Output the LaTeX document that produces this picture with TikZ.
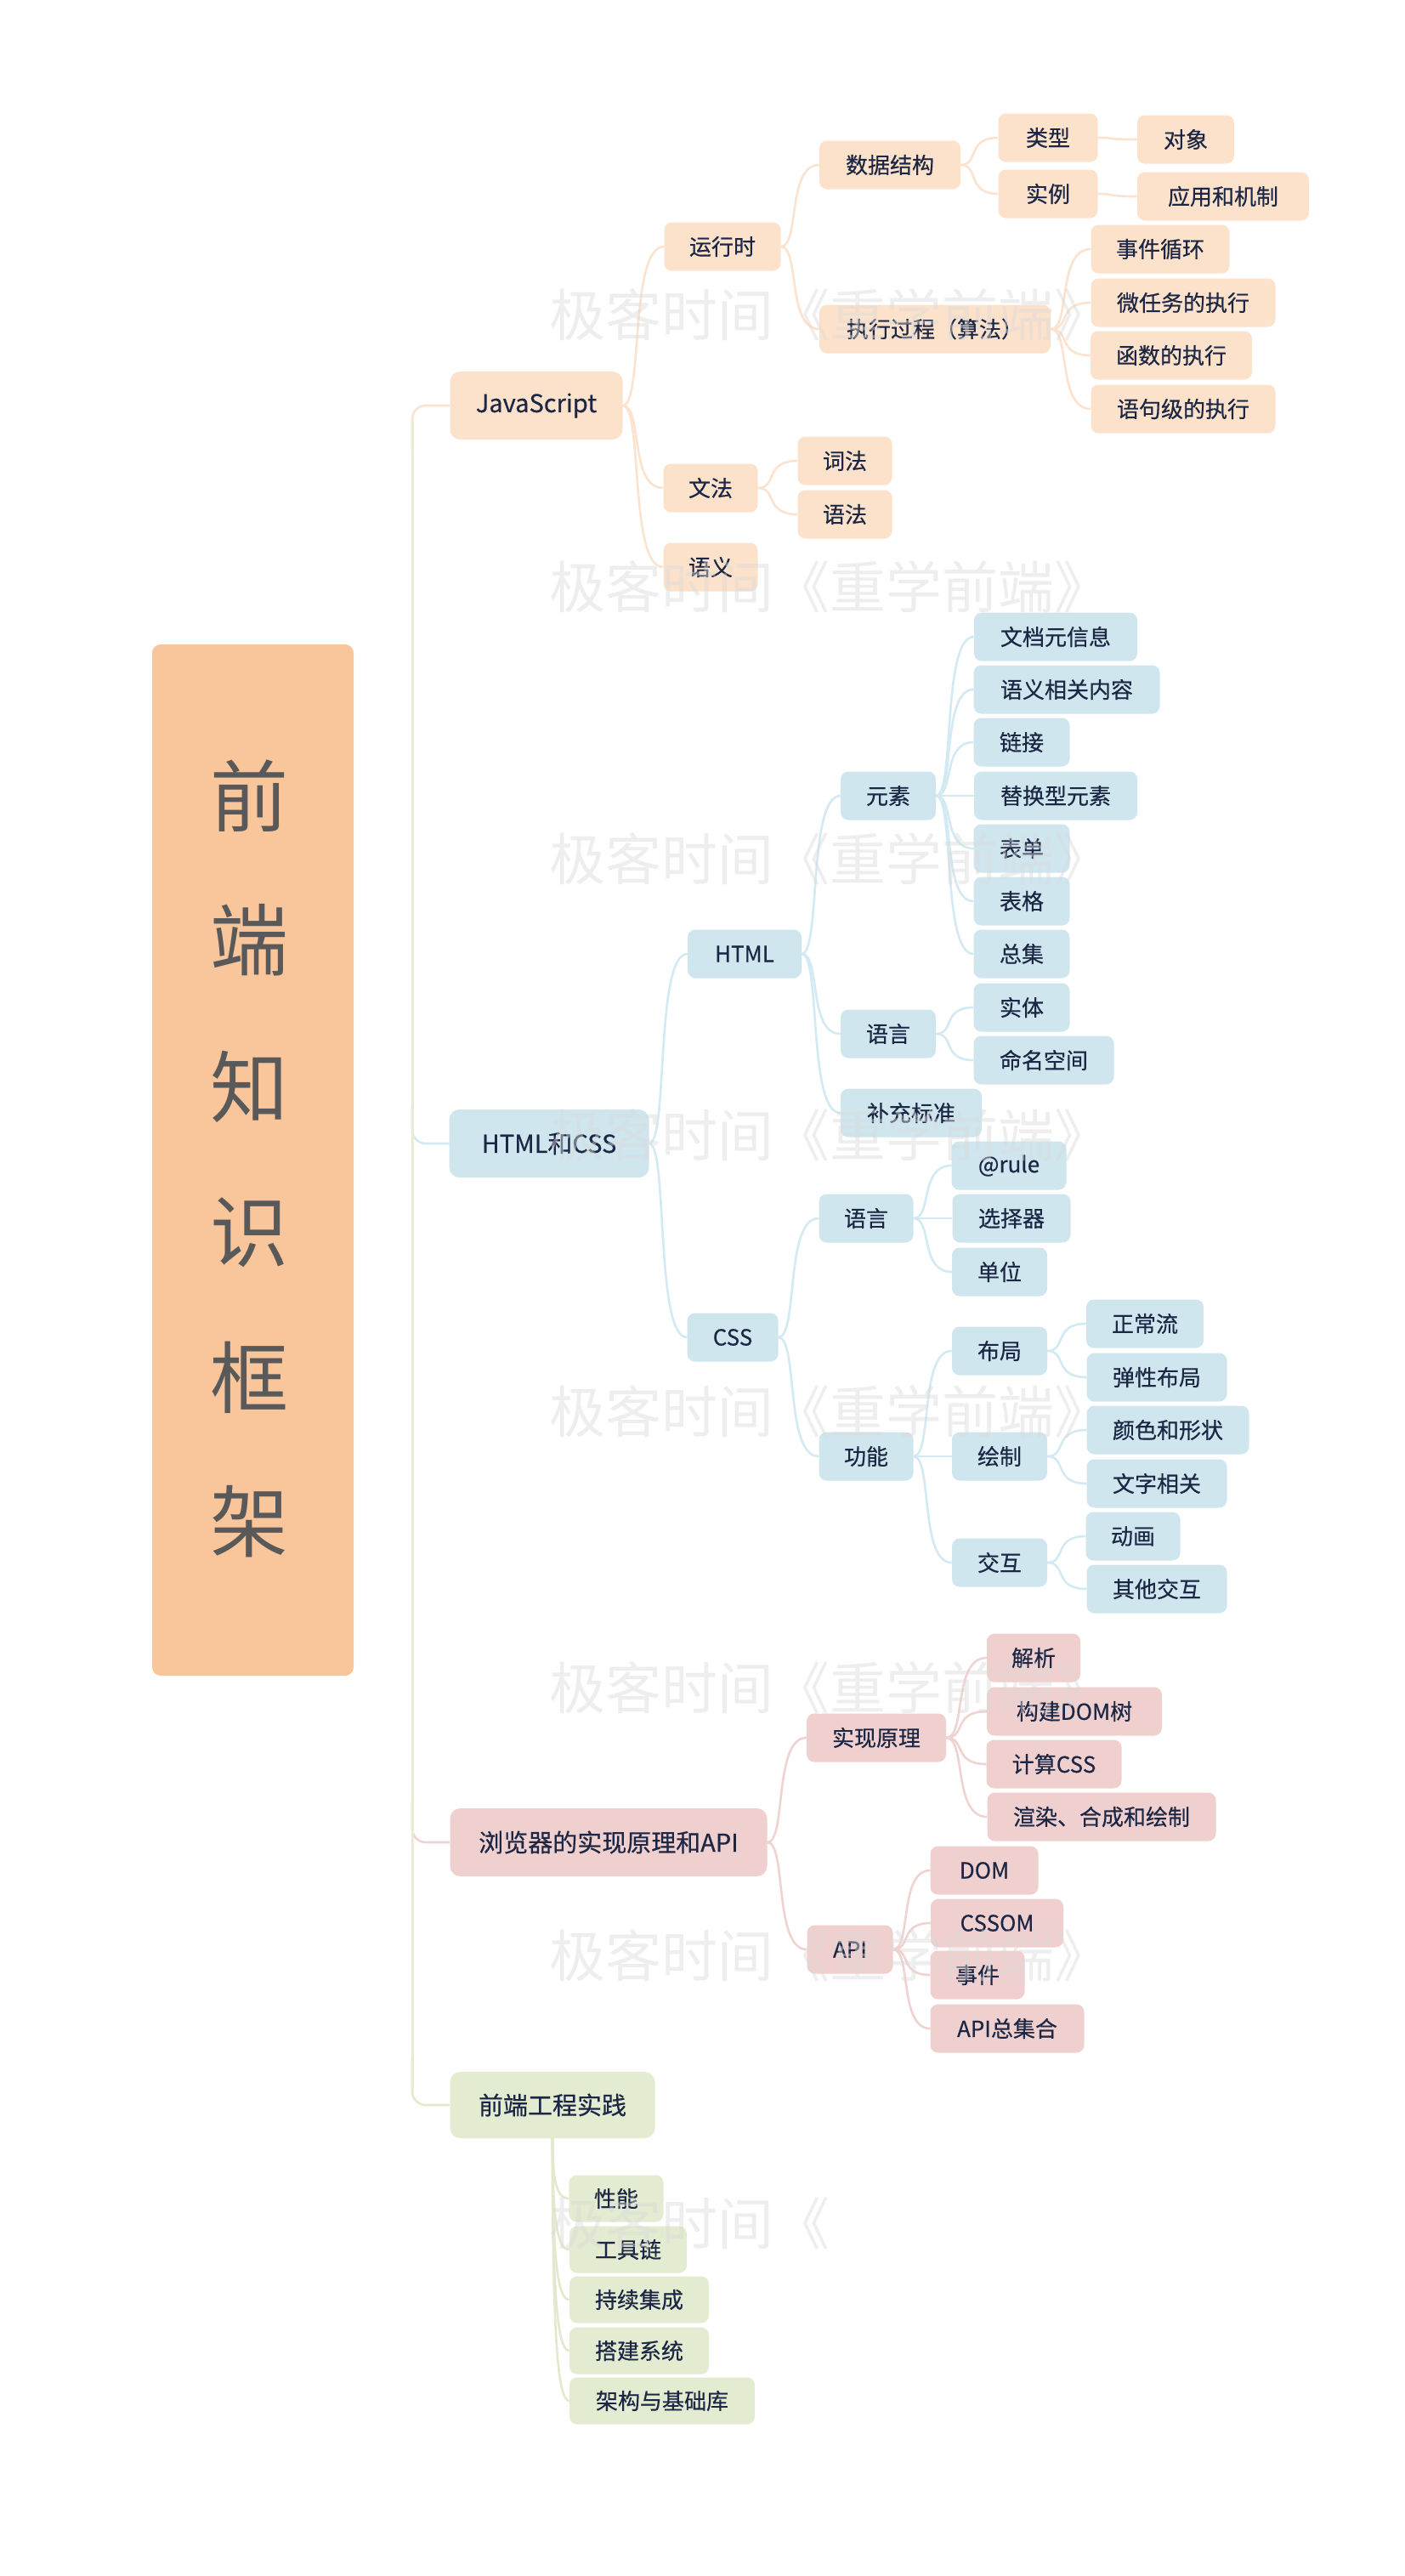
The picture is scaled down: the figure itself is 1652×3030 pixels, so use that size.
\documentclass[tikz,border=0pt]{standalone}
\usepackage{fontspec}
\setmainfont{Noto Sans CJK SC}
\newfontfamily\boxfont[FakeBold=0.5]{Noto Sans CJK SC}
\usetikzlibrary{calc,backgrounds}
\definecolor{titlef}{HTML}{F9C59A}
\definecolor{titlet}{HTML}{595959}
\definecolor{txt}{HTML}{1B2745}
\definecolor{jsf}{HTML}{FDE2CB}
\definecolor{jsl}{HTML}{FBE3CF}
\definecolor{hcf}{HTML}{CFE6EF}
\definecolor{hcl}{HTML}{D3EAF3}
\definecolor{brf}{HTML}{F0D0CF}
\definecolor{brl}{HTML}{EFD3D0}
\definecolor{fef}{HTML}{E3EBD0}
\definecolor{fel}{HTML}{E2E9CE}
\definecolor{trunk}{HTML}{ECE9D7}
\definecolor{wmc}{HTML}{DADADA}
\newcommand\mnode[5]{\node[#1, minimum width=#4] (#2) at #3 {#5};}
\newcommand\mlink[3]{\draw[#3] let \p1=(#1.east), \p2=(#2.west) in (\p1) .. controls ({\x1+0.5*(\x2-\x1)},\y1) and ({\x1+0.15*(\x2-\x1)},\y2) .. (\p2);}
\newcommand\mdown[3]{\draw[#3] let \p1=(#1.south), \p2=(#2.west) in (\p1) .. controls (\x1,{\y1+0.75*(\y2-\y1)}) and ({\x1+0.3*(\x2-\x1)},\y2) .. (\p2);}
\begin{document}
\begin{tikzpicture}[x=1pt,y=-1pt,
  box/.style={rounded corners=9pt, minimum height=57pt, inner sep=0pt, text=txt,
    font=\boxfont\fontsize{26}{30}\selectfont, anchor=center},
  topbox/.style={box, rounded corners=12pt, minimum height=80pt, font=\boxfont\fontsize{29}{34}\selectfont},
  jsn/.style={box, fill=jsf}, jst/.style={topbox, fill=jsf},
  hcn/.style={box, fill=hcf}, hct/.style={topbox, fill=hcf},
  brn/.style={box, fill=brf}, brt/.style={topbox, fill=brf},
  fen/.style={box, fill=fef, minimum height=55pt}, fet/.style={topbox, fill=fef, minimum height=78pt},
  jsc/.style={draw=jsl, line width=2.6pt},
  hcc/.style={draw=hcl, line width=2.6pt},
  brc/.style={draw=brl, line width=2.6pt},
  fec/.style={draw=fel, line width=2.6pt},
  ttl/.style={text=titlet, font=\fontsize{92}{92}\selectfont, inner sep=0pt, anchor=center},
  wm/.style={text=wmc, opacity=0.45, font=\fontsize{66}{66}\selectfont, inner sep=0pt, anchor=west}
]
\useasboundingbox (0,0) rectangle (1652,3030);

% title
\node[fill=titlef, rounded corners=10pt, minimum width=237pt, minimum height=1213pt, inner sep=0pt] (root) at (297.5,1364.5) {};
\node[ttl] (t1) at (293,936) {前};
\node[ttl] (t2) at (293,1106) {端};
\node[ttl] (t3) at (293,1278) {知};
\node[ttl] (t4) at (293,1450) {识};
\node[ttl] (t5) at (293,1620) {框};
\node[ttl] (t6) at (293,1790) {架};

% level 1
\mnode{jst}{js}{(631,477)}{203}{JavaScript}
\mnode{hct}{hc}{(646,1345)}{235}{HTML和CSS}
\mnode{brt}{br}{(716,2167)}{373}{浏览器的实现原理和API}
\mnode{fet}{fe}{(650,2476)}{241}{前端工程实践}

% JavaScript branch
\mnode{jsn}{rt}{(850,290)}{137}{运行时}
\mnode{jsn}{ds}{(1047,194)}{166}{数据结构}
\mnode{jsn}{lx}{(1233,162)}{117}{类型}
\mnode{jsn}{dx}{(1395,164)}{114}{对象}
\mnode{jsn}{sl}{(1233,228)}{117}{实例}
\mnode{jsn}{yy}{(1439,231)}{202}{应用和机制}
\mnode{jsn}{zx}{(1100,387)}{272}{执行过程（算法）}
\mnode{jsn}{sj}{(1365,293)}{163}{事件循环}
\mnode{jsn}{wr}{(1392,356)}{217}{微任务的执行}
\mnode{jsn}{hs}{(1378,418)}{190}{函数的执行}
\mnode{jsn}{yj}{(1392,481)}{217}{语句级的执行}
\mnode{jsn}{wf}{(836,574)}{111}{文法}
\mnode{jsn}{cf}{(994,542)}{111}{词法}
\mnode{jsn}{yf}{(994,605)}{111}{语法}
\mnode{jsn}{yi}{(836,667)}{111}{语义}

% HTML and CSS branch
\mnode{hcn}{html}{(876,1122)}{134}{HTML}
\mnode{hcn}{ys}{(1045,936)}{112}{元素}
\mnode{hcn}{wd}{(1242,749)}{192}{文档元信息}
\mnode{hcn}{yx}{(1255,811)}{219}{语义相关内容}
\mnode{hcn}{lj}{(1202,873)}{113}{链接}
\mnode{hcn}{th}{(1242,936)}{192}{替换型元素}
\mnode{hcn}{bd}{(1202,998)}{113}{表单}
\mnode{hcn}{bg}{(1202,1060)}{113}{表格}
\mnode{hcn}{zj}{(1202,1122)}{113}{总集}
\mnode{hcn}{hy}{(1045,1216)}{112}{语言}
\mnode{hcn}{st}{(1202,1185)}{113}{实体}
\mnode{hcn}{mm}{(1228,1247)}{165}{命名空间}
\mnode{hcn}{bc}{(1072,1309)}{166}{补充标准}
\mnode{hcn}{css}{(862,1573)}{107}{CSS}
\mnode{hcn}{cy}{(1019,1433)}{111}{语言}
\mnode{hcn}{atr}{(1187,1371)}{135}{@rule}
\mnode{hcn}{xz}{(1190,1433)}{139}{选择器}
\mnode{hcn}{dw}{(1176,1496)}{112}{单位}
\mnode{hcn}{gn}{(1019,1713)}{111}{功能}
\mnode{hcn}{bj}{(1176,1589)}{112}{布局}
\mnode{hcn}{zc}{(1347,1557)}{138}{正常流}
\mnode{hcn}{tx}{(1361,1620)}{165}{弹性布局}
\mnode{hcn}{hz}{(1176,1713)}{112}{绘制}
\mnode{hcn}{ysx}{(1374,1682)}{191}{颜色和形状}
\mnode{hcn}{wz}{(1361,1745)}{165}{文字相关}
\mnode{hcn}{jh}{(1176,1838)}{112}{交互}
\mnode{hcn}{dh}{(1333,1807)}{111}{动画}
\mnode{hcn}{qt}{(1361,1869)}{165}{其他交互}

% browser branch
\mnode{brn}{sx}{(1031,2044)}{164}{实现原理}
\mnode{brn}{jx}{(1216,1950)}{110}{解析}
\mnode{brn}{gj}{(1264,2013)}{206}{构建DOM树}
\mnode{brn}{jscss}{(1240,2075)}{159}{计算CSS}
\mnode{brn}{xr}{(1296,2137)}{269}{渲染、合成和绘制}
\mnode{brn}{api}{(1000,2293)}{101}{API}
\mnode{brn}{dom}{(1158,2200)}{127}{DOM}
\mnode{brn}{cssom}{(1173,2262)}{156}{CSSOM}
\mnode{brn}{sjj}{(1150,2323)}{111}{事件}
\mnode{brn}{apiz}{(1185,2386)}{181}{API总集合}

% practice branch
\mnode{fen}{xn}{(725,2586)}{111}{性能}
\mnode{fen}{gjl}{(739,2646)}{138}{工具链}
\mnode{fen}{cx}{(752,2705)}{164}{持续集成}
\mnode{fen}{dj}{(752,2765)}{164}{搭建系统}
\mnode{fen}{jg}{(779,2824)}{218}{架构与基础库}

\begin{pgfonlayer}{background}
\fill[white] (0,0) rectangle (1652,3030);
% trunk stubs
\draw[jsc, rounded corners=16pt] (485,530) -- (485,477) -- (js.west);
\draw[hcc, rounded corners=16pt] (485,1300) -- (485,1345) -- (hc.west);
\draw[brc, rounded corners=16pt] (485,2120) -- (485,2167) -- (br.west);
\draw[fec, rounded corners=16pt] (485,2420) -- (485,2476) -- (fe.west);
\draw[draw=trunk, line width=3pt] (485,495) -- (485,2458);
% JavaScript links
\mlink{js}{rt}{jsc}
\mlink{js}{wf}{jsc}
\mlink{js}{yi}{jsc}
\mlink{rt}{ds}{jsc}
\mlink{rt}{zx}{jsc}
\mlink{ds}{lx}{jsc}
\mlink{ds}{sl}{jsc}
\mlink{lx}{dx}{jsc}
\mlink{sl}{yy}{jsc}
\mlink{zx}{sj}{jsc}
\mlink{zx}{wr}{jsc}
\mlink{zx}{hs}{jsc}
\mlink{zx}{yj}{jsc}
\mlink{wf}{cf}{jsc}
\mlink{wf}{yf}{jsc}
% HTML links
\mlink{hc}{html}{hcc}
\mlink{hc}{css}{hcc}
\mlink{html}{ys}{hcc}
\mlink{html}{hy}{hcc}
\mlink{html}{bc}{hcc}
\mlink{ys}{wd}{hcc}
\mlink{ys}{yx}{hcc}
\mlink{ys}{lj}{hcc}
\mlink{ys}{th}{hcc}
\mlink{ys}{bd}{hcc}
\mlink{ys}{bg}{hcc}
\mlink{ys}{zj}{hcc}
\mlink{hy}{st}{hcc}
\mlink{hy}{mm}{hcc}
\mlink{css}{cy}{hcc}
\mlink{css}{gn}{hcc}
\mlink{cy}{atr}{hcc}
\mlink{cy}{xz}{hcc}
\mlink{cy}{dw}{hcc}
\mlink{gn}{bj}{hcc}
\mlink{gn}{hz}{hcc}
\mlink{gn}{jh}{hcc}
\mlink{bj}{zc}{hcc}
\mlink{bj}{tx}{hcc}
\mlink{hz}{ysx}{hcc}
\mlink{hz}{wz}{hcc}
\mlink{jh}{dh}{hcc}
\mlink{jh}{qt}{hcc}
% browser links
\mlink{br}{sx}{brc}
\mlink{br}{api}{brc}
\mlink{sx}{jx}{brc}
\mlink{sx}{gj}{brc}
\mlink{sx}{jscss}{brc}
\mlink{sx}{xr}{brc}
\mlink{api}{dom}{brc}
\mlink{api}{cssom}{brc}
\mlink{api}{sjj}{brc}
\mlink{api}{apiz}{brc}
% practice links
\mdown{fe}{xn}{fec}
\mdown{fe}{gjl}{fec}
\mdown{fe}{cx}{fec}
\mdown{fe}{dj}{fec}
\mdown{fe}{jg}{fec}
\end{pgfonlayer}

% watermarks
\node[wm] (w1) at (646,370) {极客时间《重学前端》};
\node[wm] (w2) at (646,690) {极客时间《重学前端》};
\node[wm] (w3) at (646,1010) {极客时间《重学前端》};
\node[wm] (w4) at (646,1335) {极客时间《重学前端》};
\node[wm] (w5) at (646,1660) {极客时间《重学前端》};
\node[wm] (w6) at (646,1985) {极客时间《重学前端》};
\node[wm] (w7) at (646,2300) {极客时间《重学前端》};
\node[wm] (w8) at (646,2615) {极客时间《};
\end{tikzpicture}
\end{document}
